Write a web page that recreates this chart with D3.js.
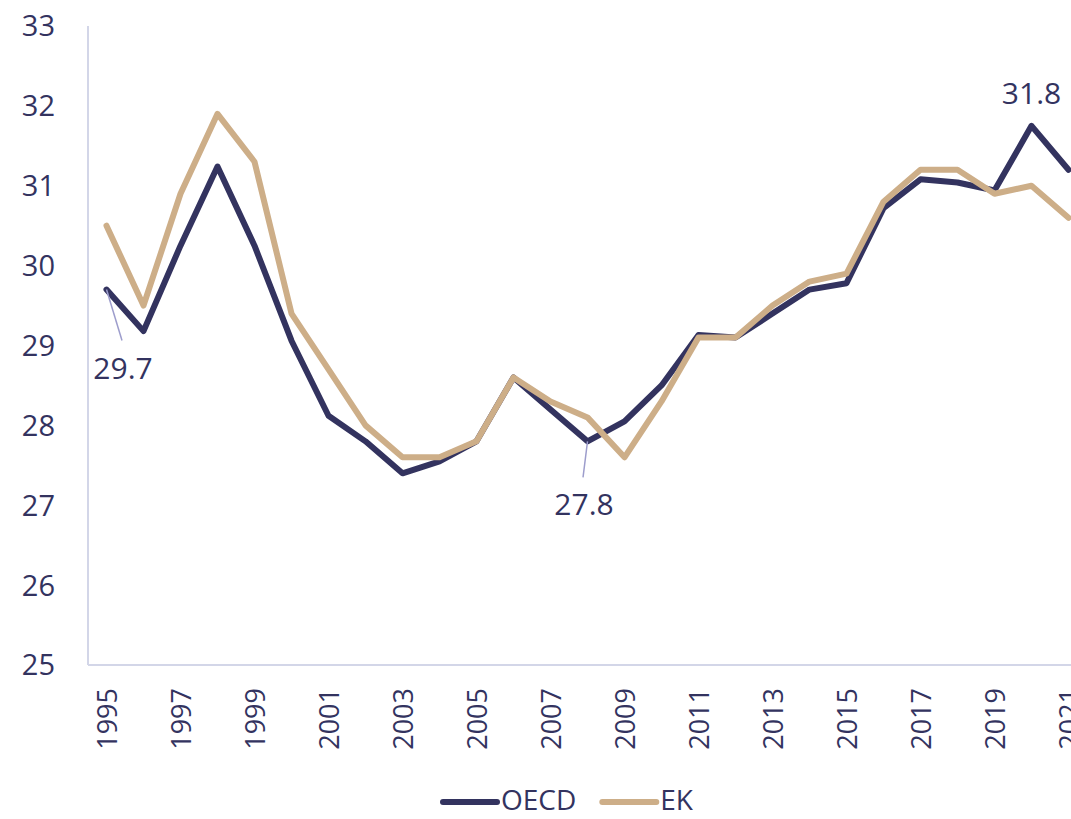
<!DOCTYPE html>
<html>
<head>
<meta charset="utf-8">
<script src="https://cdn.jsdelivr.net/npm/d3@7"></script>
<style>
  body { margin: 0; background: #fff; }
  text { font-family: "Open Sans", sans-serif; fill: #33335f; }
</style>
</head>
<body>
<div id="chart"></div>
<script>
var years = d3.range(1995, 2022);
var oecd = [29.7, 29.18, 30.25, 31.24, 30.25, 29.06, 28.12, 27.8, 27.4, 27.55, 27.8, 28.6, 28.2, 27.8, 28.05,
  28.5, 29.13, 29.1, 29.4, 29.7, 29.78, 30.72, 31.08, 31.04, 30.94, 31.75, 31.2];
var ek = [30.5, 29.5, 30.9, 31.9, 31.3, 29.4, 28.7, 28.0, 27.6, 27.6, 27.8, 28.6, 28.3, 28.1, 27.6,
  28.3, 29.1, 29.1, 29.5, 29.8, 29.9, 30.8, 31.2, 31.2, 30.9, 31.0, 30.6];
var yTicks = [25, 26, 27, 28, 29, 30, 31, 32, 33];
var series = [
  {name: 'OECD', values: oecd, color: '#33335f'},
  {name: 'EK', values: ek, color: '#cdae88'}
];
// labelled points on the OECD line
var callouts = [
  {year: 1995, value: 29.7, label: '29.7', dx: 16.5, dy: 89, leader: true},
  {year: 2008, value: 27.8, label: '27.8', dx: -3.5, dy: 74, leader: true},
  {year: 2020, value: 31.75, label: '31.8', dx: 0, dy: -22, leader: false}
];

var width = 1071, height = 819;
var svg = d3.select('#chart').append('svg')
  .attr('width', width)
  .attr('height', height);

var x = d3.scalePoint()
  .domain(years)
  .range([88, 88 + 27 * 37])
  .padding(0.5);

var y = d3.scaleLinear()
  .domain([25, 33])
  .range([665, 26]);

// axis lines
svg.append('line')
  .attr('x1', 88).attr('x2', 88)
  .attr('y1', y(33)).attr('y2', y(25))
  .attr('stroke', '#d3d6e8').attr('stroke-width', 2);
svg.append('line')
  .attr('x1', 88).attr('x2', width)
  .attr('y1', y(25)).attr('y2', y(25))
  .attr('stroke', '#d3d6e8').attr('stroke-width', 2);

// y tick labels
svg.selectAll('.ytick')
  .data(yTicks)
  .enter().append('text')
  .attr('class', 'ytick')
  .attr('x', 55)
  .attr('y', function (d) { return y(d); })
  .attr('dy', '0.36em')
  .attr('text-anchor', 'end')
  .attr('font-size', 29)
  .text(function (d) { return d; });

// x tick labels, every other year
svg.selectAll('.xtick')
  .data(years.filter(function (d) { return (d - 1995) % 2 === 0; }))
  .enter().append('text')
  .attr('class', 'xtick')
  .attr('transform', function (d) { return 'translate(' + (x(d) + 10) + ',688) rotate(-90)'; })
  .attr('text-anchor', 'end')
  .attr('font-size', 27)
  .text(function (d) { return d; });

var line = d3.line()
  .x(function (d, i) { return x(years[i]); })
  .y(function (d) { return y(d); });

svg.selectAll('.series')
  .data(series)
  .enter().append('path')
  .attr('class', 'series')
  .attr('d', function (s) { return line(s.values); })
  .attr('fill', 'none')
  .attr('stroke', function (s) { return s.color; })
  .attr('stroke-width', 6)
  .attr('stroke-linejoin', 'round')
  .attr('stroke-linecap', 'round');

// callouts
callouts.forEach(function (c) {
  var px = x(c.year), py = y(c.value);
  if (c.leader) {
    svg.append('line')
      .attr('x1', px).attr('y1', py)
      .attr('x2', px + c.dx - 1).attr('y2', py + c.dy - 38)
      .attr('stroke', '#9d9dcc').attr('stroke-width', 1.5);
  }
  svg.append('text')
    .attr('x', px + c.dx)
    .attr('y', py + c.dy)
    .attr('text-anchor', 'middle')
    .attr('font-size', 30)
    .text(c.label);
});

// legend
var legend = svg.append('g').attr('transform', 'translate(443,802)');
var lx = 0;
series.forEach(function (s) {
  legend.append('line')
    .attr('x1', lx).attr('x2', lx + 54)
    .attr('y1', 0).attr('y2', 0)
    .attr('stroke', s.color).attr('stroke-width', 6)
    .attr('stroke-linecap', 'round');
  var t = legend.append('text')
    .attr('x', lx + 58)
    .attr('y', 8)
    .attr('font-size', 28)
    .text(s.name);
  lx += 58 + t.node().getComputedTextLength() + 26;
});
</script>
</body>
</html>
